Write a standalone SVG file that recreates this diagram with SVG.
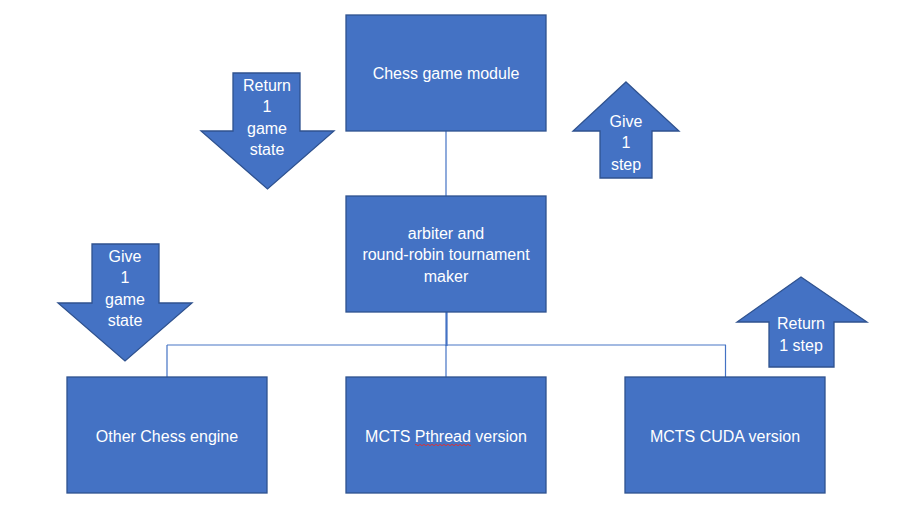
<svg xmlns="http://www.w3.org/2000/svg" width="903" height="507" viewBox="0 0 903 507">
<style>
.box{fill:#4472C4;stroke:#2F528F;stroke-width:1.3}
.arr{fill:#4472C4;stroke:#2F528F;stroke-width:1.3}
text{font-family:"Liberation Sans",Arial,sans-serif;font-size:16px;fill:#FFFFFF;text-anchor:middle;dominant-baseline:central}
.ln{stroke:#4472C4;stroke-width:1.2;fill:none}
</style>
<rect width="903" height="507" fill="#FFFFFF"/>
<g id="connectors">
<line class="ln" x1="446" y1="131" x2="446" y2="196"/>
<line x1="167" y1="345" x2="726" y2="345" stroke="#A3BAE2" stroke-width="2"/>
<line x1="446.5" y1="312" x2="446.5" y2="346" stroke="#4472C4" stroke-width="2.2"/>
<line class="ln" x1="167" y1="345" x2="167" y2="377"/>
<line class="ln" x1="446" y1="345" x2="446" y2="377"/>
<line class="ln" x1="725.5" y1="345" x2="725.5" y2="377"/>
</g>
<g id="chess-game-module">
<rect class="box" x="346" y="15" width="200" height="116"/>
<text x="446" y="73">Chess game module</text>
</g>
<g id="arbiter">
<rect class="box" x="346" y="196" width="200" height="116"/>
<text x="446" y="233">arbiter and</text>
<text x="446" y="254.5">round-robin tournament</text>
<text x="446" y="276">maker</text>
</g>
<g id="other-engine">
<rect class="box" x="67" y="377" width="200" height="116"/>
<text x="167" y="436">Other Chess engine</text>
</g>
<g id="mcts-pthread">
<rect class="box" x="346" y="377" width="200" height="116"/>
<text x="446" y="436">MCTS Pthread version</text>
<path d="M415,445 q1,-1.5 2,0 t2,0 t2,0 t2,0 t2,0 t2,0 t2,0 t2,0 t2,0 t2,0 t2,0 t2,0 t2,0 t2,0 t2,0 t2,0 t2,0 t2,0 t2,0 t2,0 t2,0 t2,0 t2,0 t2,0 t2,0 t2,0 t2,0 t2,0" fill="none" stroke="#E03030" stroke-width="0.9"/>
</g>
<g id="mcts-cuda">
<rect class="box" x="625" y="377" width="200" height="116"/>
<text x="725" y="436">MCTS CUDA version</text>
</g>
<g id="arrow-return-game-state">
<path class="arr" d="M233,73 H300 V131 H334 L267.5,189 L201,131 H233 Z"/>
<text x="267" y="85">Return</text>
<text x="267" y="106.5">1</text>
<text x="267" y="128">game</text>
<text x="267" y="149.5">state</text>
</g>
<g id="arrow-give-step">
<path class="arr" d="M626,82 L679,131 H652 V178 H600 V131 H573 Z"/>
<text x="626" y="121">Give</text>
<text x="626" y="142.5">1</text>
<text x="626" y="164">step</text>
</g>
<g id="arrow-give-game-state">
<path class="arr" d="M92,244 H159 V303 H192 L125,361 L58,303 H92 Z"/>
<text x="125" y="256">Give</text>
<text x="125" y="277.5">1</text>
<text x="125" y="299">game</text>
<text x="125" y="320.5">state</text>
</g>
<g id="arrow-return-step">
<path class="arr" d="M801,277 L867,322 H834 V367 H769 V322 H737 Z"/>
<text x="801" y="323">Return</text>
<text x="801" y="345">1 step</text>
</g>
</svg>
